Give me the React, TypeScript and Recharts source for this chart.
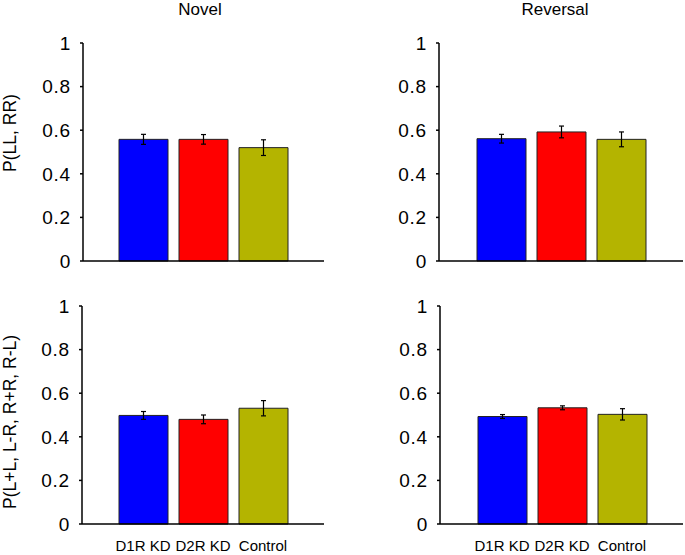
import React from 'react';
import { BarChart, Bar, XAxis, YAxis, ErrorBar, Cell, Label } from 'recharts';

const categories = ['D1R KD', 'D2R KD', 'Control'];
const barColors = ['#0000FF', '#FF0000', '#B4B400'];
const yTicks = [0, 0.2, 0.4, 0.6, 0.8, 1];

const novelSame = [0.558, 0.558, 0.52];
const novelSameErr = [0.023, 0.022, 0.036];
const reversalSame = [0.561, 0.592, 0.558];
const reversalSameErr = [0.02, 0.027, 0.034];
const novelMixed = [0.498, 0.48, 0.531];
const novelMixedErr = [0.018, 0.02, 0.035];
const reversalMixed = [0.493, 0.533, 0.503];
const reversalMixedErr = [0.009, 0.009, 0.026];

const FONT = '"Liberation Sans", Arial, sans-serif';

const build = (vals: number[], errs: number[]) =>
  categories.map((c, i) => ({ name: c, value: vals[i], err: errs[i] }));

type PanelProps = {
  left: number;
  top: number;
  width: number;
  height: number;
  marginTop: number;
  marginRight: number;
  yWidth: number;
  xHeight: number;
  padLeft: number;
  padRight: number;
  showX: boolean;
  yLabel?: string;
  yLabelShift?: number;
  data: { name: string; value: number; err: number }[];
};

const makeYLabel = (text: string, shift: number) => (props: any) => {
  const vb = props.viewBox || { x: 0, y: 0, width: 80, height: 200 };
  const cx = vb.x + 10;
  const cy = vb.y + vb.height / 2 + shift;
  return (
    <text
      x={cx}
      y={cy}
      transform={`rotate(-90, ${cx}, ${cy})`}
      textAnchor="middle"
      dominantBaseline="central"
      fontSize={17.5}
      fontFamily={FONT}
      fill="#000"
    >
      {text}
    </text>
  );
};

const Panel = (p: PanelProps) => (
  <div style={{ position: 'absolute', left: p.left, top: p.top }}>
    <BarChart
      width={p.width}
      height={p.height}
      data={p.data}
      margin={{ top: p.marginTop, right: p.marginRight, bottom: 0, left: 0 }}
    >
      <XAxis
        dataKey="name"
        height={p.xHeight}
        padding={{ left: p.padLeft, right: p.padRight }}
        axisLine={{ stroke: '#000', strokeWidth: 1.5 }}
        tickLine={false}
        tickMargin={10}
        tick={p.showX ? { fill: '#000', fontSize: 15, fontFamily: FONT } : false}
        interval={0}
      />
      <YAxis
        width={p.yWidth}
        domain={[0, 1]}
        ticks={yTicks}
        axisLine={{ stroke: '#000', strokeWidth: 1.5 }}
        tickLine={{ stroke: '#000', strokeWidth: 1.5 }}
        tickSize={3}
        tickMargin={9}
        tick={{ fill: '#000', fontSize: 19, fontFamily: FONT, letterSpacing: 0.8 }}
      >
        {p.yLabel ? <Label content={makeYLabel(p.yLabel, p.yLabelShift || 0)} /> : null}
      </YAxis>
      <Bar dataKey="value" barSize={49} stroke="#222" strokeWidth={1} isAnimationActive={false}>
        {p.data.map((d, i) => (
          <Cell key={d.name} fill={barColors[i]} />
        ))}
        <ErrorBar dataKey="err" width={2.5} stroke="#000" strokeWidth={1.2} direction="y" />
      </Bar>
    </BarChart>
  </div>
);

const titleStyle = (cx: number): React.CSSProperties => ({
  position: 'absolute',
  top: 1,
  left: cx - 60,
  width: 120,
  textAlign: 'center',
  fontFamily: FONT,
  fontSize: 17,
  lineHeight: '17px',
  color: '#000',
});

export default function App() {
  return (
    <div style={{ position: 'absolute', left: 0, top: 0, width: 685, height: 555, background: '#fff' }}>
      <div style={titleStyle(200)}>Novel</div>
      <div style={titleStyle(555)}>Reversal</div>
      <Panel
        left={0}
        top={0}
        width={340}
        height={280}
        marginTop={43}
        marginRight={16}
        yWidth={83}
        xHeight={19}
        padLeft={30}
        padRight={31}
        showX={false}
        yLabel="P(LL, RR)"
        yLabelShift={-19}
        data={build(novelSame, novelSameErr)}
      />
      <Panel
        left={340}
        top={0}
        width={345}
        height={280}
        marginTop={43}
        marginRight={2}
        yWidth={99}
        xHeight={19}
        padLeft={32}
        padRight={32}
        showX={false}
        data={build(reversalSame, reversalSameErr)}
      />
      <Panel
        left={0}
        top={280}
        width={340}
        height={275}
        marginTop={26}
        marginRight={16}
        yWidth={82}
        xHeight={31}
        padLeft={31}
        padRight={31}
        showX={true}
        yLabel="P(L+L, L-R, R+R, R-L)"
        yLabelShift={7}
        data={build(novelMixed, novelMixedErr)}
      />
      <Panel
        left={340}
        top={280}
        width={345}
        height={275}
        marginTop={26}
        marginRight={2}
        yWidth={100}
        xHeight={31}
        padLeft={32}
        padRight={31}
        showX={true}
        data={build(reversalMixed, reversalMixedErr)}
      />
    </div>
  );
}
